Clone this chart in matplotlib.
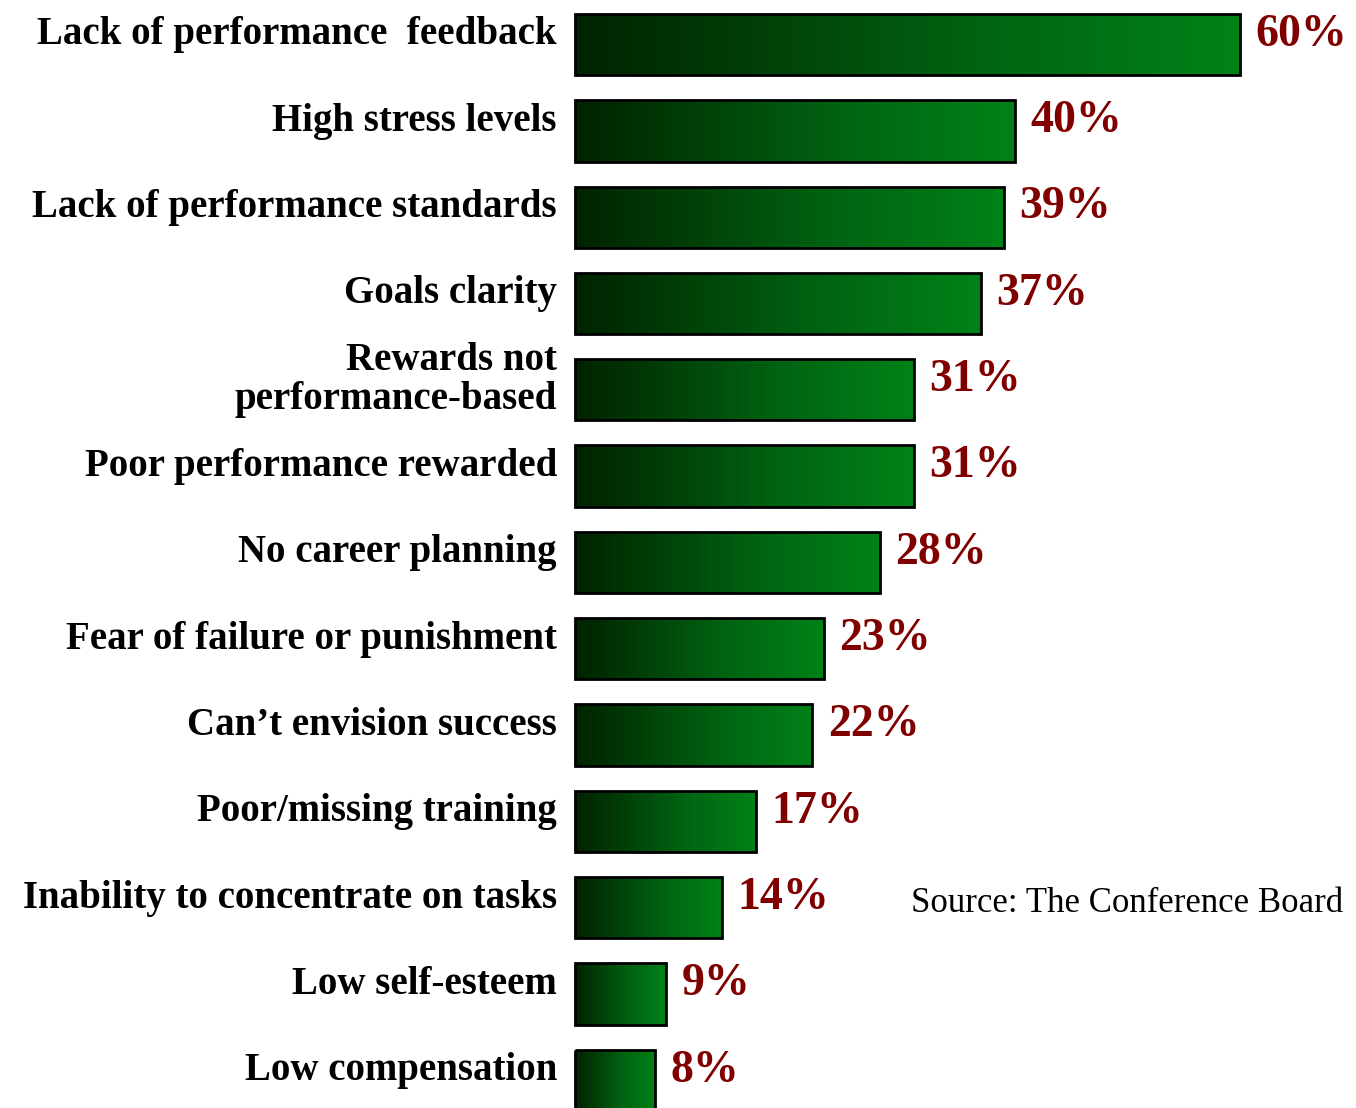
import matplotlib
matplotlib.use("Agg")
import matplotlib.pyplot as plt
import numpy as np
from matplotlib.colors import LinearSegmentedColormap
from matplotlib.patches import Rectangle

categories = [
    "Lack of performance  feedback",
    "High stress levels",
    "Lack of performance standards",
    "Goals clarity",
    "Rewards not\nperformance-based",
    "Poor performance rewarded",
    "No career planning",
    "Fear of failure or punishment",
    "Can\u2019t envision success",
    "Poor/missing training",
    "Inability to concentrate on tasks",
    "Low self-esteem",
    "Low compensation",
]
values = [60, 40, 39, 37, 31, 31, 28, 23, 22, 17, 14, 9, 8]
value_labels = ["60%", "40%", "39%", "37%", "31%", "31%", "28%", "23%", "22%", "17%", "14%", "9%", "8%"]
source_text = "Source: The Conference Board"

green = LinearSegmentedColormap.from_list(
    "grn", [(0.0, "#002300"), (0.22, "#003a06"), (0.6, "#006312"), (1.0, "#008218")])

fig = plt.figure(figsize=(13.56, 11.08), dpi=100)
ax = fig.add_axes([575 / 1356, 0, 781 / 1356, 1])
# axis minimum is a bit above zero, bars start at the axis minimum
x_min = 0.9
ax.set_xlim(x_min, 70.3)
ax.set_ylim(12.32, -0.516)
ax.axis("off")

bar_h = 0.71
grad = np.linspace(0, 1, 256).reshape(1, -1)
for i, v in enumerate(values):
    rect = Rectangle((x_min, i - bar_h / 2), v - x_min, bar_h, facecolor="none",
                     edgecolor="black", linewidth=2, zorder=3, clip_on=False)
    ax.add_patch(rect)
    im = ax.imshow(grad, cmap=green, aspect="auto", interpolation="bilinear",
                   extent=(x_min, v, i + bar_h / 2, i - bar_h / 2), zorder=2)
    im.set_clip_path(rect)
    ax.annotate(value_labels[i], (v, i), xytext=(11, 7), textcoords="offset points",
                ha="left", va="center", color="#800000", fontsize=33,
                fontweight="bold", family="Liberation Serif")
    ax.annotate(categories[i], (x_min, i), xytext=(-13, 7), textcoords="offset points",
                ha="right", va="center", color="black", fontsize=28,
                fontweight="bold", family="Liberation Serif", linespacing=1.05,
                annotation_clip=False)

ax.set_xlim(x_min, 70.3)
ax.set_ylim(12.32, -0.516)

fig.text(1343 / 1356, 1 - 903 / 1108, source_text, ha="right", va="center",
         fontsize=25, family="Liberation Serif", color="black")

fig.savefig("out.png", dpi=100)
